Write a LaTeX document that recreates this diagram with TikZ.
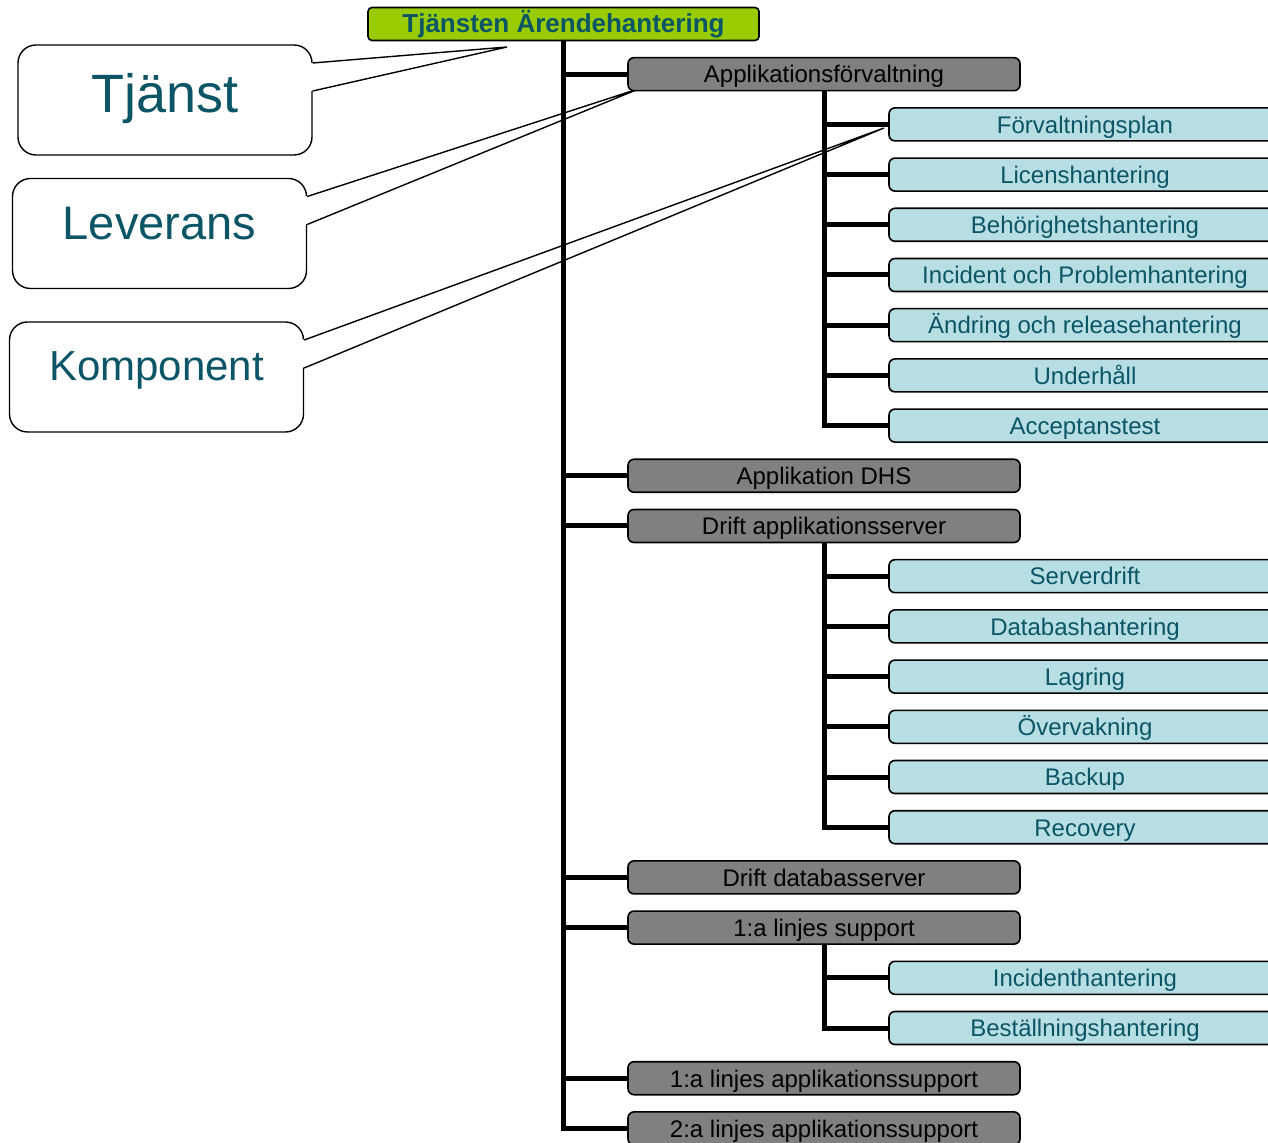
\documentclass[tikz,border=0pt]{standalone}
\usepackage{fontspec}
\setmainfont{Liberation Sans}
\usetikzlibrary{calc}

\definecolor{svcGreen}{HTML}{99CC00}
\definecolor{svcGray}{HTML}{808080}
\definecolor{svcBlue}{HTML}{B7DEE2}
\definecolor{svcTeal}{HTML}{0B5566}

\begin{document}
\begin{tikzpicture}[x=0.5pt,y=-0.5pt,font=\fontsize{12}{14}\selectfont,
  rootbox/.style={draw=black,line width=0.8pt,rounded corners=2pt,fill=svcGreen,minimum width=195.5pt,minimum height=16.5pt,inner sep=0pt,text height=10pt,text depth=1pt,text=svcTeal,font=\bfseries\fontsize{13}{15}\selectfont},
  levbox/.style={draw=black,line width=0.8pt,rounded corners=3pt,fill=svcGray,minimum width=196pt,minimum height=16.5pt,inner sep=0pt,text height=9.8pt,text depth=1pt},
  kompbox/.style={draw=black,line width=0.8pt,rounded corners=3pt,fill=svcBlue,minimum width=196pt,minimum height=16.5pt,inner sep=0pt,text height=9.8pt,text depth=1pt,text=svcTeal},
  tagbox/.style={draw=black,line width=0.7pt,rounded corners=9pt,fill=white,minimum width=147pt,minimum height=55pt,inner sep=0pt,text=svcTeal},
  tagline/.style={black,line width=0.7pt},
  branch/.style={line width=2.5pt}]
  \useasboundingbox (0,0) rectangle (1268,1143);

  % callouts
  \coordinate (tjtip) at (507,47);
  \coordinate (levtip) at (641,88);
  \coordinate (komptip) at (884,128);

  \node[tagbox,font=\fontsize{27}{30}\selectfont,text height=20pt,text depth=7pt] (tj) at (165,100) {Tjänst};
  \fill[white] ($(tj.east)+(-2,-37)$) -- (tjtip) -- ($(tj.east)+(-2,-9)$) -- cycle;
  \draw[tagline] ($(tj.east)+(0,-37)$) -- (tjtip) -- ($(tj.east)+(0,-9)$);

  \node[tagbox,font=\fontsize{23.5}{26}\selectfont,text height=17pt,text depth=10.5pt] (lev) at (159.5,233.5) {Leverans};
  \fill[white] ($(lev.east)+(-2,-37)$) -- (levtip) -- ($(lev.east)+(-2,-9)$) -- cycle;
  \draw[tagline] ($(lev.east)+(0,-37)$) -- (levtip) -- ($(lev.east)+(0,-9)$);

  \node[tagbox,font=\fontsize{21}{24}\selectfont,text height=15pt,text depth=11pt] (komp) at (156.5,377) {Komponent};
  \fill[white] ($(komp.east)+(-2,-37)$) -- (komptip) -- ($(komp.east)+(-2,-9)$) -- cycle;
  \draw[tagline] ($(komp.east)+(0,-37)$) -- (komptip) -- ($(komp.east)+(0,-9)$);

  % service
  \node[rootbox] (root) at (563.5,24) {Tjänsten Ärendehantering};

  % deliveries
  \node[levbox] (a1) at (824,74.2) {Applikationsförvaltning};
  \node[levbox] (a2) at (824,475.8) {Applikation DHS};
  \node[levbox] (a3) at (824,526) {Drift applikationsserver};
  \node[levbox] (a4) at (824,877.4) {Drift databasserver};
  \node[levbox] (a5) at (824,927.6) {1:a linjes support};
  \node[levbox] (a6) at (824,1078.2) {1:a linjes applikationssupport};
  \node[levbox] (a7) at (824,1128.4) {2:a linjes applikationssupport};

  % Applikationsförvaltning
  \node[kompbox] (b1) at (1085,124.4) {Förvaltningsplan};
  \node[kompbox] (b2) at (1085,174.6) {Licenshantering};
  \node[kompbox] (b3) at (1085,224.8) {Behörighetshantering};
  \node[kompbox] (b4) at (1085,275) {Incident och Problemhantering};
  \node[kompbox] (b5) at (1085,325.2) {Ändring och releasehantering};
  \node[kompbox] (b6) at (1085,375.4) {Underhåll};
  \node[kompbox] (b7) at (1085,425.6) {Acceptanstest};

  % Drift applikationsserver
  \node[kompbox] (c1) at (1085,576.2) {Serverdrift};
  \node[kompbox] (c2) at (1085,626.4) {Databashantering};
  \node[kompbox] (c3) at (1085,676.6) {Lagring};
  \node[kompbox] (c4) at (1085,726.8) {Övervakning};
  \node[kompbox] (c5) at (1085,777) {Backup};
  \node[kompbox] (c6) at (1085,827.2) {Recovery};

  % 1:a linjes support
  \node[kompbox] (d1) at (1085,977.8) {Incidenthantering};
  \node[kompbox] (d2) at (1085,1028) {Beställningshantering};

  \foreach \n in {a1,a2,a3,a4,a5,a6,a7}
    \draw[branch] (root.south) |- (\n.west);
  \foreach \n in {b1,b2,b3,b4,b5,b6,b7}
    \draw[branch] (a1.south) |- (\n.west);
  \foreach \n in {c1,c2,c3,c4,c5,c6}
    \draw[branch] (a3.south) |- (\n.west);
  \foreach \n in {d1,d2}
    \draw[branch] (a5.south) |- (\n.west);
\end{tikzpicture}
\end{document}
